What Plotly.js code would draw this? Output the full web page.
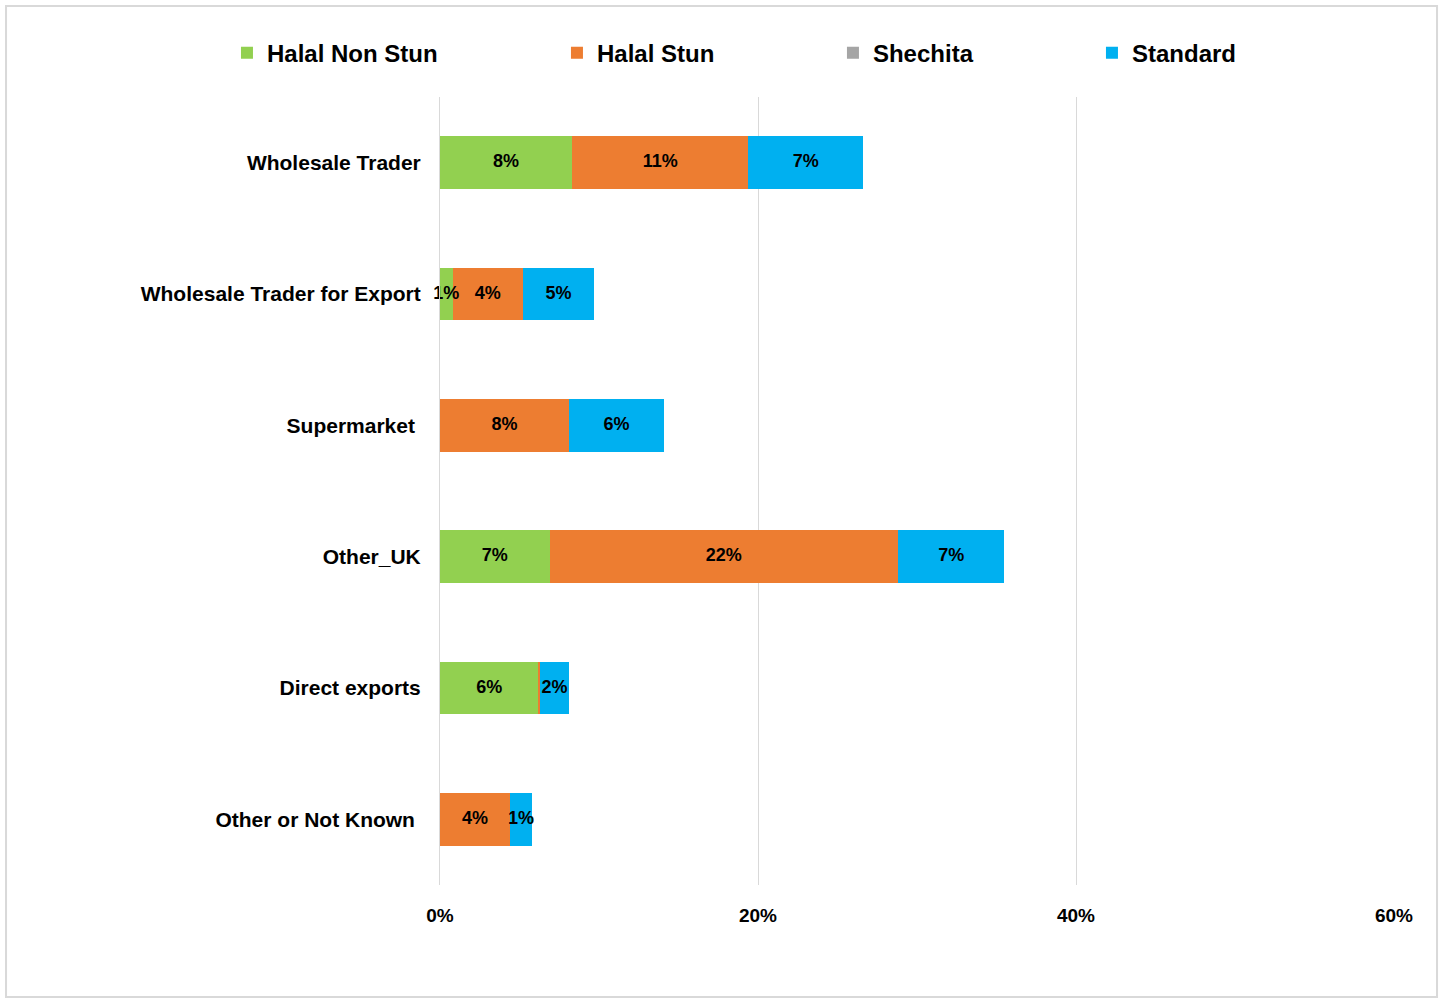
<!DOCTYPE html>
<html>
<head>
<meta charset="utf-8">
<script src="https://cdn.plot.ly/plotly-3.0.1.min.js"></script>
<style>
html,body{margin:0;padding:0;background:#fff;}
#chart{width:1441px;height:999px;}
</style>
</head>
<body>
<div id="chart"></div>
<script>
// Categories (top to bottom)
const categories = ["Wholesale Trader", "Wholesale Trader for Export", "Supermarket\u00a0", "Other_UK", "Direct exports", "Other or Not Known\u00a0"];
// Series values (% of total)
const halalNonStun = [8.3, 0.8, 0, 6.9, 6.2, 0];
const halalStun    = [11.1, 4.4, 8.1, 21.9, 0.1, 4.4];
const shechita     = [0, 0, 0, 0, 0, 0];
const standard     = [7.2, 4.5, 6.0, 6.7, 1.8, 1.4];
// Axis ticks
const xTickVals = [0, 20, 40, 60];
const xTickText = ["0%", "20%", "40%", "60%"];

const FONT = "Liberation Sans, Arial, sans-serif";
const labelOf = v => v >= 0.5 ? Math.round(v) + "%" : "";

const seriesList = [
  {name: "Halal Non Stun", vals: halalNonStun, color: "#92D050", legend: "legend"},
  {name: "Halal Stun", vals: halalStun, color: "#ED7D31", legend: "legend2"},
  {name: "Shechita", vals: shechita, color: "#A5A5A5", legend: "legend3"},
  {name: "Standard", vals: standard, color: "#00B0F0", legend: "legend4"}
];

const data = seriesList.map(s => ({
  type: "bar", orientation: "h", name: s.name,
  x: s.vals, y: categories,
  marker: {color: s.color, line: {width: 0}},
  hoverinfo: "x+y+name",
  legend: s.legend
}));

// Segment labels, placed at the middle of each stacked segment (drawn above all bars)
const lx = [], ly = [], lt = [];
const cum = categories.map(() => 0);
seriesList.forEach(s => {
  s.vals.forEach((v, i) => {
    const t = labelOf(v);
    if (t) { lx.push(cum[i] + v / 2); ly.push(categories[i]); lt.push(t); }
    cum[i] += v;
  });
});
data.push({
  type: "scatter", mode: "text", x: lx, y: ly, text: lt,
  textposition: "middle center", cliponaxis: false,
  textfont: {family: FONT, size: 18, color: "#000", weight: "bold"},
  showlegend: false, hoverinfo: "skip"
});

const legBase = {
  orientation: "h", yanchor: "middle", xanchor: "left", y: 1.0558,
  font: {family: FONT, size: 24, color: "#000", weight: "bold"},
  bgcolor: "rgba(0,0,0,0)", itemwidth: 30
};

const layout = {
  width: 1441, height: 999,
  margin: {l: 440, r: 47, t: 97, b: 114, pad: 0},
  paper_bgcolor: "#fff", plot_bgcolor: "#fff",
  barmode: "stack", bargap: 0.6,
  font: {family: FONT, color: "#000"},
  xaxis: {
    range: [0, 60], tickvals: xTickVals, ticktext: xTickText,
    showgrid: true, gridcolor: "#d9d9d9", gridwidth: 1,
    zeroline: false, showline: false,
    ticks: "outside", ticklen: 13, tickcolor: "rgba(0,0,0,0)",
    tickfont: {family: FONT, size: 19, color: "#000", weight: "bold"},
    fixedrange: true
  },
  yaxis: {
    type: "category", range: [5.5, -0.5],
    showgrid: false, zeroline: false, showline: true, linecolor: "#d9d9d9", linewidth: 1,
    ticks: "outside", ticklen: 14, tickcolor: "rgba(0,0,0,0)",
    tickfont: {family: FONT, size: 21, color: "#000", weight: "bold"},
    fixedrange: true
  },
  showlegend: true,
  legend:  Object.assign({}, legBase, {x: -0.2233}),
  legend2: Object.assign({}, legBase, {x: 0.1226}),
  legend3: Object.assign({}, legBase, {x: 0.4119}),
  legend4: Object.assign({}, legBase, {x: 0.6834}),
  shapes: [{
    type: "rect", xref: "paper", yref: "paper",
    x0: -0.4549, x1: 1.0451, y0: -0.1421, y1: 1.1155,
    line: {color: "#d9d9d9", width: 2}, fillcolor: "rgba(0,0,0,0)", layer: "below"
  }]
};

Plotly.newPlot("chart", data, layout, {displayModeBar: false});
</script>
</body>
</html>
